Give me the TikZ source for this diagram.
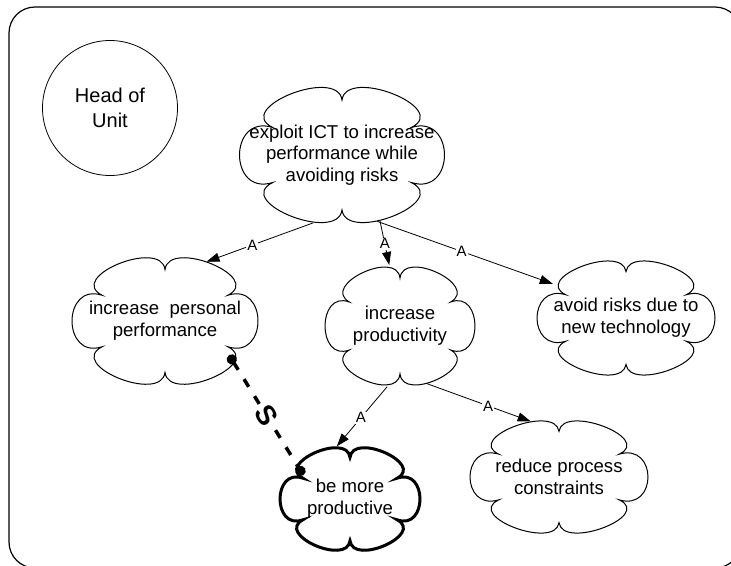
\documentclass[tikz,border=0pt]{standalone}
\usepackage{fontspec}
\setmainfont{Liberation Sans}
\usetikzlibrary{shapes.geometric,arrows.meta,positioning,calc}
% goal node with six puffs: [style]{name}{at}{width}{height}{text}
\newcommand{\goalnode}[6][]{%
  \node[goal,minimum width=#4pt,minimum height=#5pt] (#2) at (#3) {#6};
  \draw[line width=1pt,#1,shift={(#3)}] ({.78*cos(30)*#4/2},{.78*sin(30)*#5/2})
    \foreach \a in {30,90,...,330}
    { .. controls ({1.255*cos(\a+2)*#4/2},{1.255*sin(\a+2)*#5/2})
         and ({1.255*cos(\a+58)*#4/2},{1.255*sin(\a+58)*#5/2})
      .. ({.78*cos(\a+60)*#4/2},{.78*sin(\a+60)*#5/2}) } -- cycle;}

\begin{document}
\begin{tikzpicture}
[x=1pt,y=-1pt,
goal/.style={ellipse,align=center,inner xsep=-40pt,inner ysep=-18pt,
  font=\fontsize{18.6}{21.7}\selectfont},
actor/.style={circle,draw=black,line width=0.8pt,minimum size=135pt,align=center,
  font=\fontsize{20}{25}\selectfont},
aedge/.style={line width=0.8pt,-{Triangle[length=13pt,width=9pt]}},
alabel/.style={fill=white,inner sep=1pt,font=\fontsize{15}{15}\selectfont},
slink/.style={line width=3.5pt,dash pattern=on 9pt off 11pt,
  {Circle[length=10pt]}-{Circle[length=10pt]}}]
\useasboundingbox (0,0) rectangle (731,565);
\clip (0,0) rectangle (731,565);
% boundary of the actor
\draw[line width=1.2pt,rounded corners=26pt] (9,7) rectangle (741,568);
\node[actor] (head) at (110,108) {Head of\\Unit};

% goals
\goalnode{exploit}{342,155}{205}{141}{exploit ICT to increase\\performance while\\avoiding risks}
\goalnode{personal}{165,321}{186}{132}{increase\ \ personal\\performance}
\goalnode{product}{400,326}{150}{123}{increase\\productivity}
\goalnode{risks}{626,318}{178}{119}{avoid risks due to\\new technology}
\goalnode{reduce}{559,477}{178}{117}{reduce process\\constraints}
\goalnode[line width=3pt]{bemore}{350,499}{140}{107}{be more\\productive}

% and-links
\draw[aedge] (exploit.247) -- (personal.55) node[alabel,pos=.57] {A};
\draw[aedge] (exploit.300) -- (product.100) node[alabel,pos=.52] {A};
\draw[aedge] (exploit.298) -- (risks.155) node[alabel,pos=.48] {A};
\draw[aedge] (product.258) -- (bemore.104) node[alabel,pos=.52] {A};
\draw[aedge] (product.295) -- (reduce.117) node[alabel,pos=.59] {A};

% strategic dependency
\draw[slink] ($(personal.center)!.86!(personal.332)$) -- ($(bemore.center)!.8!(bemore.153)$)
  node[midway,sloped,fill=white,inner sep=1pt,font=\fontsize{28}{28}\selectfont\bfseries] (s) {S};
\end{tikzpicture}
\end{document}
